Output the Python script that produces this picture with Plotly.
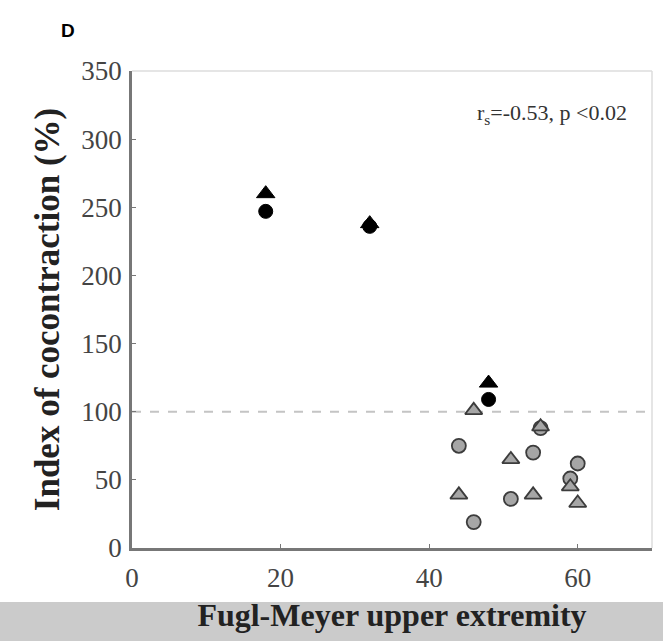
import plotly.graph_objects as go

# Data
fm_black = [18, 32, 48]
ic_black_tri = [260, 238, 121]
ic_black_circ = [247, 236, 109]

fm_grey = [44, 46, 51, 54, 55, 59, 60]
ic_grey_circ = [75, 19, 36, 70, 88, 51, 62]
fm_grey_tri = [44, 46, 51, 54, 55, 59, 60]
ic_grey_tri = [39, 101, 65, 39, 89, 45, 33]

x_ticks = [0, 20, 40, 60]
y_ticks = [0, 50, 100, 150, 200, 250, 300, 350]
threshold = 100

serif = "Liberation Serif"

fig = go.Figure()

fig.add_trace(go.Scatter(x=fm_grey, y=ic_grey_circ, mode="markers",
                         marker=dict(symbol="circle", size=14, color="#a6a6a6",
                                     line=dict(color="#3c3c3c", width=1.8))))
fig.add_trace(go.Scatter(x=fm_grey_tri, y=ic_grey_tri, mode="markers",
                         marker=dict(symbol="triangle-up", size=15, color="#a6a6a6",
                                     line=dict(color="#3c3c3c", width=1.8))))
fig.add_trace(go.Scatter(x=fm_black, y=ic_black_tri, mode="markers",
                         marker=dict(symbol="triangle-up", size=16, color="black",
                                     line=dict(color="black", width=1))))
fig.add_trace(go.Scatter(x=fm_black, y=ic_black_circ, mode="markers",
                         marker=dict(symbol="circle", size=14, color="black",
                                     line=dict(color="black", width=1))))

# reference dashed line
fig.add_hline(y=threshold, line=dict(color="#c4c4c4", width=2, dash="dash"), layer="below")

# grey band behind x axis title
fig.add_shape(type="rect", xref="paper", yref="paper", x0=-0.3, x1=1.1, y0=-0.113, y1=-0.2,
              fillcolor="#cbcbcb", line=dict(width=0), layer="below")
# light top and right frame
fig.add_shape(type="line", xref="paper", yref="paper", x0=0, x1=1, y0=1, y1=1,
              line=dict(color="#dcdcdc", width=1.5))
fig.add_shape(type="line", xref="paper", yref="paper", x0=1, x1=1, y0=0, y1=1,
              line=dict(color="#dcdcdc", width=1.5))

fig.add_annotation(x=0.955, y=0.91, xref="paper", yref="paper", xanchor="right", yanchor="middle",
                   text="r<sub>s</sub>=-0.53, p <0.02", showarrow=False,
                   font=dict(family=serif, size=22, color="#333"))
fig.add_annotation(x=-0.123, y=1.085, xref="paper", yref="paper", xanchor="center", yanchor="middle",
                   text="<b>D</b>", showarrow=False,
                   font=dict(family="Liberation Sans", size=19, color="black"))

fig.update_xaxes(range=[0, 70], tickvals=x_ticks, showgrid=False, zeroline=False,
                 showline=True, linecolor="#777", linewidth=2.5, ticks="inside", ticklen=4,
                 tickcolor="#777", tickfont=dict(family=serif, size=27, color="#444"),
                 ticklabelstandoff=4,
                 title=dict(text="<b>Fugl-Meyer upper extremity</b>", standoff=12,
                            font=dict(family=serif, size=32, color="#222")))
fig.update_yaxes(range=[0, 350], tickvals=y_ticks, showgrid=False, zeroline=False,
                 showline=True, linecolor="#777", linewidth=2.5, ticks="inside", ticklen=4,
                 tickcolor="#777", tickfont=dict(family=serif, size=27, color="#444"),
                 ticklabelstandoff=2,
                 title=dict(text="<b>Index of cocontraction (%)</b>", standoff=12,
                            font=dict(family=serif, size=35, color="#222")))

fig.update_layout(width=663, height=641, showlegend=False,
                  margin=dict(l=132, r=11, t=71, b=93),
                  plot_bgcolor="white", paper_bgcolor="white")

fig.write_html("out.html")
